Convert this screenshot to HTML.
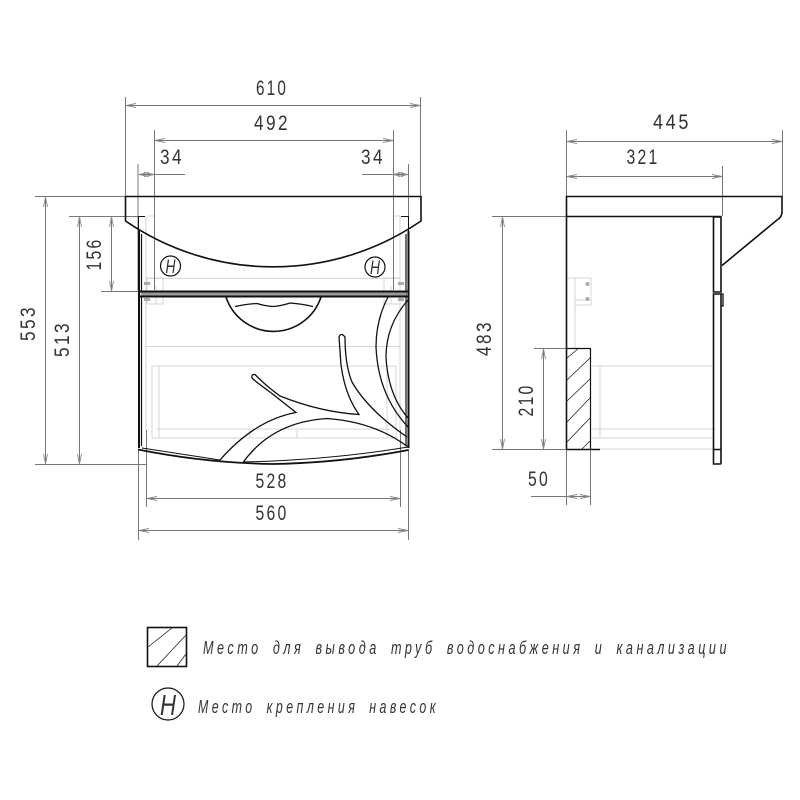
<!DOCTYPE html>
<html><head><meta charset="utf-8"><style>
html,body{margin:0;padding:0;background:#fff}
svg{display:block}
text{font-family:"Liberation Sans",sans-serif;fill:#333}
.d{font-size:21px;text-anchor:middle;letter-spacing:3px}
.l{font-size:18px;font-style:italic;fill:#333;letter-spacing:5px;word-spacing:6px}
</style></head><body>
<svg width="800" height="800" viewBox="0 0 800 800" xmlns="http://www.w3.org/2000/svg">
<defs>
<marker id="a" viewBox="0 0 10 6" refX="10" refY="3" markerWidth="10" markerHeight="6" orient="auto-start-reverse" markerUnits="userSpaceOnUse"><path d="M10 3L0 1M10 3L0 5" stroke="#888" fill="none" stroke-width=".9"/></marker>
</defs>

<!-- light gray internals -->
<g fill="none" stroke="#d6d6d6" stroke-width="1">
<path d="M146 278.500H400M146 346.500H400"/>
<path d="M152 366H396V438H152ZM159 366V438M156 429H390M250 430V438M297 430V438M387 366V438"/>
<path d="M146 216V430M400 216V430M148 216H154M393 216H400"/>
<path d="M147 278H163V304H147ZM384 278H400V304H384ZM156 286V304M391 286V304"/>
<path d="M567 278H575V348M575 278H591V305H575ZM575 300H591"/>
<path d="M592 366H712M592 366H600V438H592M592 429H716M592 438H712M600 449H712V450"/>
</g>
<g fill="#aaa"><rect x="144" y="282" width="6" height="3"/><rect x="144" y="298" width="6" height="3"/><rect x="398" y="282" width="6" height="3"/><rect x="398" y="298" width="6" height="3"/><circle cx="587.500" cy="284" r="2"/><circle cx="587.500" cy="299" r="2"/></g>

<!-- dimension lines -->
<g fill="none" stroke="#777" stroke-width="1">
<path d="M125.500 97V196M420.500 97V196M154.500 130V290M393.500 130V290M138 164V290M408.500 164V290"/>
<path d="M35 196.500H125M69 216.500H145M101 291.500H139M35 464.500H146M492 216.500H566M534 348.500H566M492 449.500H566"/>
<path d="M566.500 130V196M782.500 130V196M722.500 166V216M566.500 449V505M590.500 449V505"/>
<path d="M146.500 430V507M400.500 430V507M138.500 449V540M408.500 449V540"/>
<g marker-start="url(#a)" marker-end="url(#a)">
<path d="M126 105.500H420"/><path d="M155 140.500H393"/>
<path d="M567 141.500H782"/><path d="M567 176.500H722"/>
<path d="M147 498.500H400"/><path d="M139 530.500H408"/>
<path d="M45.500 197V464"/><path d="M79.500 217V464"/><path d="M111.500 217V291"/>
<path d="M502.500 217V449"/><path d="M543.500 349V449"/>
<path d="M139 174.500H154"/><path d="M393 174.500H408"/><path d="M567 496.500H590"/>
</g>
<path d="M154 174.500H185M362 174.500H393M531 496.500H566"/>
</g>

<!-- front view -->
<g fill="none" stroke="#111">
<path stroke-width="1.600" d="M125.500 196.500H421V221A261 261 0 0 1 125.500 221Z"/>
<path stroke-width="2" d="M139 231V448M408.500 231V448"/>
<path stroke-width="1.200" d="M141.500 234V446M406 234V446"/>
<path stroke-width="1" d="M139 216.500H145M401 216.500H408.500M138.500 216V231M408.500 216V231"/>
<path stroke-width="2" d="M139 291.500H408.500M139 296.500H408.500"/>
<path stroke="#999" stroke-width="3" d="M141 294H406"/>
<path stroke-width="1.600" d="M226 297A50 50 0 0 0 321 297"/>
<path stroke-width="1.200" d="M235 306.500Q247 304 257 303.500Q265 306 273 306.500Q281 306 290 303Q303 304 313 306.500"/>
<path stroke-width="1.800" d="M138 449.500Q205 463 273 464Q340 463 408.500 450"/>
<path stroke-width="1" d="M142 448L220 460M243 462Q330 460 408 447"/>
<path stroke-width="1.300" d="M220 460Q255 420 296 412.500L270 392Q256 382 252 378Q251 374 255 374.500Q265 385 280 396Q320 412 359 414.500Q345 395 341 365L339 337Q341 332 345 337Q345 365 352 382Q368 410 407 437M408 447Q375 422 327 418.500Q272 422 243 462.500"/>
<path stroke-width="1.300" d="M388 297Q376 320 376 347Q378 395 408 427M408 300Q386 325 386 357Q388 395 408 418"/>
<circle cx="170.500" cy="266" r="10" stroke-width="1.200"/>
<circle cx="375" cy="267" r="10" stroke-width="1.200"/>
</g>
<text x="170.500" y="273" font-size="19" font-style="italic" text-anchor="middle" textLength="10" lengthAdjust="spacingAndGlyphs">H</text>
<text x="375" y="274" font-size="19" font-style="italic" text-anchor="middle" textLength="10" lengthAdjust="spacingAndGlyphs">H</text>

<!-- side view -->
<g fill="none" stroke="#111">
<path stroke-width="1.600" d="M566.500 449.500V196.500H782V212Q782 217 777 220L722 265.500"/>
<path stroke-width="1.600" d="M566.500 216.500H721M566.500 449.500H600M713 449.500H721"/>
<path stroke-width="1.600" d="M713.500 217H721V292H713.500ZM713.500 294H721V463Q721 464 720 464H713.500Z"/>
<path stroke-width="1.300" d="M721 294H723V306H721"/>
<path stroke-width="1.200" d="M566.500 348.500H590.500V449.500"/>
<path stroke-width=".7" d="M567 358L579 348M567 380L590 358M567 401L590 379M567 422L590 398M567 442L590 418M582 449L590 441"/>
</g>

<!-- legend -->
<g fill="none" stroke="#111">
<rect x="147.500" y="627.500" width="39" height="39" stroke-width="1.600"/>
<path stroke-width=".7" d="M148 647L172 628M157 666L186 635M177 666L186 654"/>
<circle cx="168" cy="704" r="16" stroke-width="1.200"/>
</g>
<text x="168" y="715" font-size="29" font-style="italic" text-anchor="middle" textLength="16" lengthAdjust="spacingAndGlyphs">H</text>
<text class="l" x="203" y="654" textLength="527" lengthAdjust="spacingAndGlyphs">Место для вывода труб водоснабжения и канализации</text>
<text class="l" x="198" y="713" textLength="241" lengthAdjust="spacingAndGlyphs">Место крепления навесок</text>

<!-- dimension text -->
<g class="dims">
<text class="d" x="272" y="95" textLength="32" lengthAdjust="spacingAndGlyphs">610</text>
<text class="d" x="272" y="130" textLength="36" lengthAdjust="spacingAndGlyphs">492</text>
<text class="d" x="172" y="164" textLength="24" lengthAdjust="spacingAndGlyphs">34</text>
<text class="d" x="373" y="164" textLength="24" lengthAdjust="spacingAndGlyphs">34</text>
<text class="d" x="672" y="129" textLength="38" lengthAdjust="spacingAndGlyphs">445</text>
<text class="d" x="643" y="164" textLength="33" lengthAdjust="spacingAndGlyphs">321</text>
<text class="d" x="272" y="488" textLength="33" lengthAdjust="spacingAndGlyphs">528</text>
<text class="d" x="272" y="520" textLength="33" lengthAdjust="spacingAndGlyphs">560</text>
<text class="d" x="539" y="486" textLength="22" lengthAdjust="spacingAndGlyphs">50</text>
<text class="d" transform="translate(35 323) rotate(-90)" textLength="36" lengthAdjust="spacingAndGlyphs">553</text>
<text class="d" transform="translate(69 339) rotate(-90)" textLength="36" lengthAdjust="spacingAndGlyphs">513</text>
<text class="d" transform="translate(101 254) rotate(-90)" textLength="33" lengthAdjust="spacingAndGlyphs">156</text>
<text class="d" transform="translate(491 338) rotate(-90)" textLength="36" lengthAdjust="spacingAndGlyphs">483</text>
<text class="d" transform="translate(533 400) rotate(-90)" textLength="33" lengthAdjust="spacingAndGlyphs">210</text>
</g>
</svg>
</body></html>
